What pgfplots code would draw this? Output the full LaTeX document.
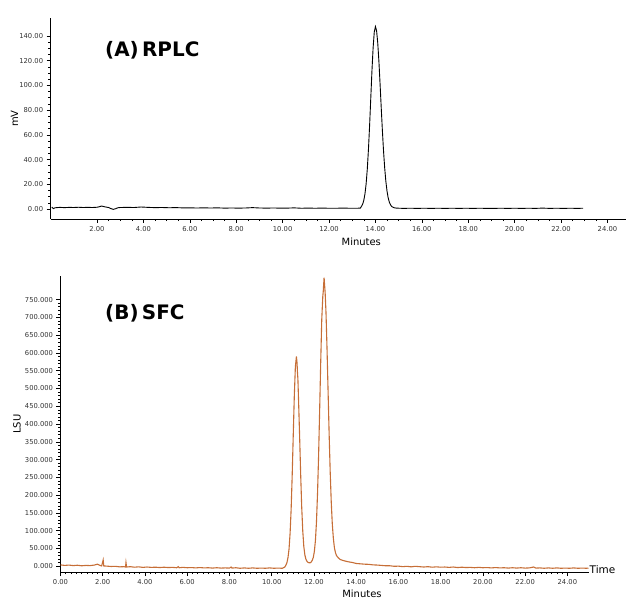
\documentclass[border=0pt]{standalone}
\usepackage{pgfplots}
\pgfplotsset{compat=1.18}
\usepackage{fontspec}
\setmainfont{DejaVu Sans}
\definecolor{sfc}{RGB}{198,110,55}
\definecolor{tk}{RGB}{50,50,50}
\pgfplotsset{chrom/.style={
  scale only axis,
  axis lines=left,
  axis line style={-, line width=0.7bp, black},
  tick align=outside,
  major tick length=4bp,
  minor tick length=2.2bp,
  every tick/.style={black, line width=0.6bp},
  ticklabel style={font=\fontsize{6.8}{8}\selectfont, text=tk},
  label style={font=\fontsize{10}{12}\selectfont},
  /pgf/number format/assume math mode=true,
  scaled ticks=false,
  clip=false,
}}
\begin{document}
\begin{tikzpicture}
\useasboundingbox (0,0) rectangle (626bp,599bp);
% ---------------- (A) RPLC ----------------
\begin{axis}[chrom,
  at={(50.6bp,380bp)}, anchor=south west,
  width=575.4bp, height=201bp,
  xmin=0, xmax=24.8, ymin=-8.1, ymax=154.5,
  xtick={2,4,...,24}, minor x tick num=3,
  ytick={0,20,...,140}, minor y tick num=3,
  xticklabel style={/pgf/number format/.cd, fixed, fixed zerofill, precision=2},
  yticklabel style={/pgf/number format/.cd, fixed, fixed zerofill, precision=2},
  xlabel={Minutes}, ylabel={mV},
  every axis x label/.style={at={(axis description cs:0.540,-0.112)}, anchor=center},
  every axis y label/.style={at={(axis description cs:-0.0626,0.5)}, anchor=center, rotate=90},
]
\addplot[black, line width=0.9bp] coordinates {
(0.05,1.6)(0.12,0.3)(0.2,1.0)(0.4,1.3)(0.6,1.1)(0.8,1.3)(1.0,1.2)(1.2,1.4)(1.4,1.2)(1.6,1.3)(1.8,1.2)(2.0,1.4)
(2.1,1.8)(2.2,2.4)(2.3,1.9)(2.4,1.5)(2.5,1.2)(2.6,0.3)(2.7,-0.3)(2.8,0.2)(2.9,1.0)(3.0,1.2)(3.3,1.3)(3.6,1.2)
(3.9,1.6)(4.2,1.3)(4.5,1.1)(4.8,1.2)(5.1,1.0)(5.4,1.1)(5.7,0.9)(6.0,0.9)(6.3,0.8)(6.6,0.9)(6.9,0.8)(7.2,0.9)
(7.5,0.7)(7.8,0.8)(8.1,0.7)(8.4,0.8)(8.7,1.1)(9.0,0.8)(9.3,0.7)(9.6,0.8)(9.9,0.7)(10.2,0.7)(10.5,0.9)(10.8,0.6)
(11.1,0.7)(11.4,0.6)(11.7,0.7)(12.0,0.6)(12.3,0.6)(12.6,0.7)(12.9,0.6)(13.2,0.6)(13.35,0.7)
(13.4,2.2)(13.45,3.9)(13.5,7.1)(13.55,12.3)(13.6,20.5)(13.65,32.4)(13.7,48.4)(13.75,67.9)(13.8,89.8)
(13.85,111.6)(13.9,130.3)(13.95,143.1)(14.0,147.6)(14.05,144.2)(14.1,134.3)(14.15,119.4)(14.2,101.3)
(14.25,82.0)(14.3,63.4)(14.35,46.8)(14.4,33.0)(14.45,22.3)(14.5,14.4)(14.55,9.0)(14.6,5.5)(14.65,3.4)
(14.7,2.0)(14.8,1.0)(14.9,0.7)(15.2,0.5)(15.5,0.6)(15.8,0.5)(16.1,0.6)(16.4,0.5)(16.7,0.6)(17.0,0.5)
(17.3,0.6)(17.6,0.5)(17.9,0.6)(18.2,0.5)(18.5,0.6)(18.8,0.5)(19.1,0.5)(19.4,0.6)(19.7,0.5)(20.0,0.6)
(20.3,0.5)(20.6,0.6)(20.9,0.5)(21.2,0.7)(21.5,0.5)(21.8,0.6)(22.1,0.5)(22.4,0.6)(22.7,0.5)(22.95,0.6)
};
\node[anchor=base west, inner sep=0pt, font=\fontsize{20}{24}\selectfont\bfseries] at (axis description cs:0.0945,0.807) {(A)\,RPLC};
\end{axis}
% ---------------- (B) SFC ----------------
\begin{axis}[chrom,
  at={(60.5bp,27bp)}, anchor=south west,
  width=528bp, height=295.5bp,
  xmin=0, xmax=25, ymin=-16, ymax=815,
  xtick={0,2,...,24}, minor x tick num=7,
  ytick={0,50,...,750}, minor y tick num=4,
  xticklabel style={/pgf/number format/.cd, fixed, fixed zerofill, precision=2},
  yticklabel style={/pgf/number format/.cd, fixed, fixed zerofill, precision=3},
  xlabel={Minutes}, ylabel={LSU},
  every axis x label/.style={at={(axis description cs:0.571,-0.0745)}, anchor=center},
  every axis y label/.style={at={(axis description cs:-0.0824,0.5)}, anchor=center, rotate=90},
]
\addplot[sfc, line width=1.1bp] coordinates {
(0.0,4)(0.2,2.5)(0.4,3.5)(0.6,2)(0.8,3)(1.0,1.5)(1.2,2.5)(1.4,2)(1.6,3.5)(1.75,6)(1.85,3)(1.95,1)(2.02,18)(2.05,1)
(2.2,0.5)(2.4,-0.5)(2.6,0)(2.8,-1.5)(3.0,-1)(3.08,-2)(3.1,11)(3.13,-2)(3.3,-1)(3.5,-2.5)(3.7,-1.5)(3.9,-3)
(4.1,-2)(4.3,-3)(4.5,-2.5)(4.7,-3.5)(4.9,-2.5)(5.1,-3.5)(5.3,-3)(5.5,-4)(5.58,-1)(5.62,-4)(5.8,-3)(6.0,-4)
(6.2,-3.5)(6.4,-4.5)(6.6,-3.5)(6.8,-4.5)(7.0,-4)(7.2,-5)(7.4,-4)(7.6,-5)(7.8,-4.5)(8.0,-5)(8.08,-2)(8.12,-5)
(8.3,-4)(8.5,-5.5)(8.7,-4.5)(8.9,-5.5)(9.1,-4.5)(9.3,-5.5)(9.5,-5)(9.7,-5.5)(9.9,-4.5)(10.1,-5.5)(10.3,-5)
(10.5,-5.5)(10.55,-4)(10.62,-2)(10.67,3)(10.72,10)(10.77,24)(10.82,48)(10.87,92)(10.92,160)(10.97,255)
(11.02,368)(11.07,478)(11.12,560)(11.17,590)(11.20,572)(11.22,545)(11.24,528)(11.27,470)(11.32,370)
(11.37,262)(11.42,168)(11.47,100)(11.52,56)(11.57,32)(11.62,20)(11.67,14)(11.72,11)(11.77,10)(11.82,10)
(11.87,12)(11.92,17)(11.97,25)(12.02,42)(12.07,72)(12.12,125)(12.17,205)(12.22,310)(12.27,438)(12.32,572)
(12.37,694)(12.42,760)(12.44,772)(12.46,792)(12.48,812)(12.50,795)(12.53,770)(12.57,715)(12.62,611)
(12.67,491)(12.72,371)(12.77,265)(12.82,180)(12.87,118)(12.92,78)(12.97,52)(13.02,38)(13.07,30)(13.15,24)
(13.25,19)(13.4,16)(13.6,13)(13.8,11)(14.0,8)(14.2,7)(14.4,6)(14.6,5.5)(14.8,4)(15.0,3.5)(15.2,2.5)(15.4,1.5)
(15.6,1.5)(15.8,0)(16.0,0.5)(16.2,-1)(16.4,0)(16.6,-1.5)(16.8,0)(17.0,-1)(17.2,-2)(17.4,-1)(17.6,-2.5)
(17.8,-1.5)(18.0,-2.5)(18.2,-2)(18.4,-3)(18.6,-2)(18.8,-3.5)(19.0,-2.5)(19.2,-3.5)(19.4,-3)(19.6,-4)(19.8,-3)
(20.0,-4)(20.2,-3.5)(20.4,-4.5)(20.6,-3.5)(20.8,-4.5)(21.0,-4)(21.2,-5)(21.4,-4)(21.6,-5)(21.8,-4)(22.0,-5)
(22.2,-4.5)(22.4,-2)(22.5,-5)(22.7,-4.5)(22.9,-5.5)(23.1,-4.5)(23.3,-5.5)(23.5,-4.5)(23.7,-5.5)(23.9,-5)
(24.1,-5.5)(24.3,-4.5)(24.5,-5.5)(24.7,-5)(24.9,-5.5)(25.0,-5)
};
\node[anchor=base west, inner sep=0pt, font=\fontsize{20}{24}\selectfont\bfseries] at (axis description cs:0.0843,0.854) {(B)\,SFC};
\node[anchor=west, inner sep=1pt, font=\fontsize{10.5}{12}\selectfont] at (axis description cs:1,0.0068) {Time};
\end{axis}
\end{tikzpicture}
\end{document}
